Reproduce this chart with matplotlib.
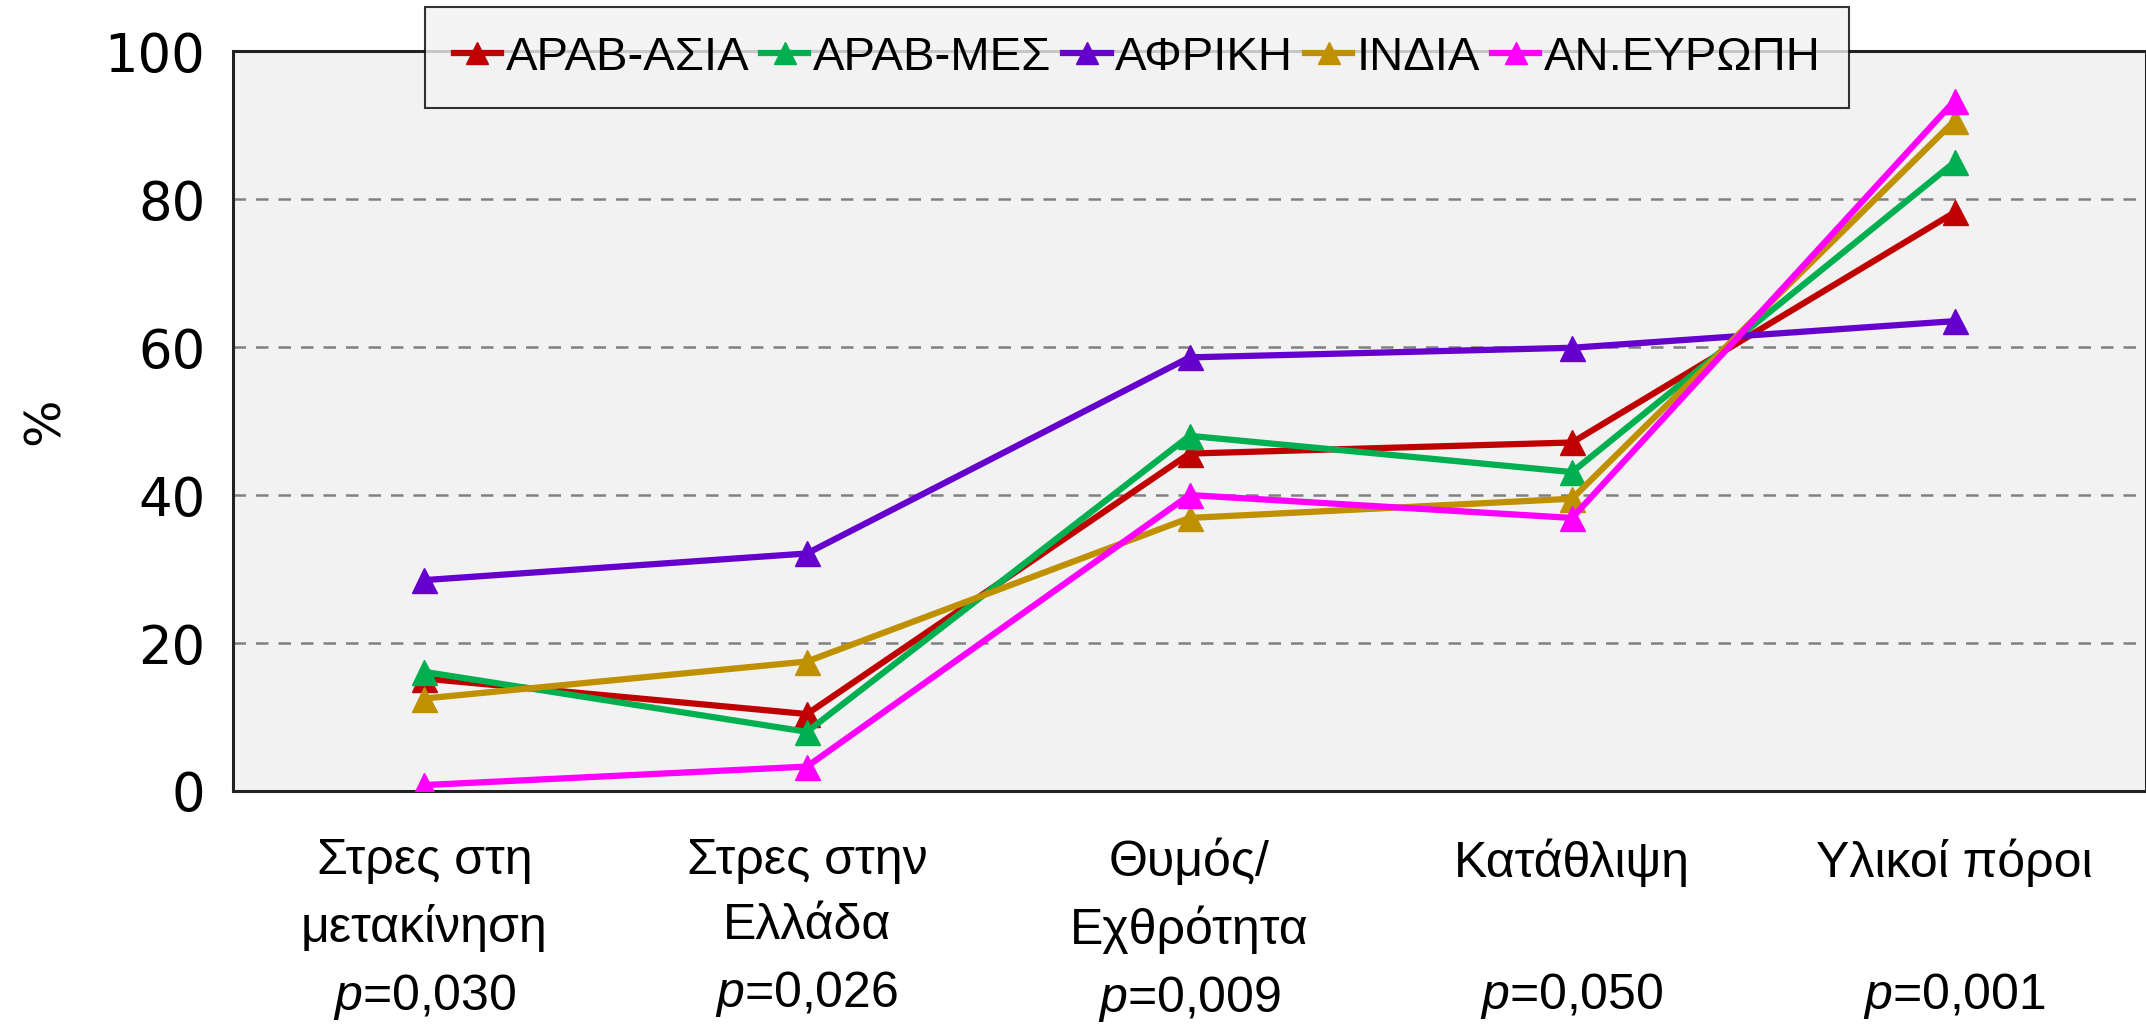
import matplotlib
matplotlib.use("Agg")
import matplotlib.pyplot as plt
import numpy as np

plt.rcParams['font.family'] = ['Liberation Sans', 'DejaVu Sans']
plt.rcParams['mathtext.fontset'] = 'custom'
plt.rcParams['mathtext.it'] = 'Liberation Sans:italic'
plt.rcParams['mathtext.rm'] = 'Liberation Sans'

# κατηγορίες και p-τιμές
categories = ['Στρες στη\nμετακίνηση', 'Στρες στην\nΕλλάδα', 'Θυμός/\nΕχθρότητα',
              'Κατάθλιψη\n', 'Υλικοί πόροι\n']
p_values = ['0,030', '0,026', '0,009', '0,050', '0,001']

# σειρές (%)
arab_asia = [15.2, 10.4, 45.6, 47.1, 78.2]
arab_mes = [16.1, 8.0, 48.0, 43.1, 85.0]
afriki = [28.5, 32.1, 58.6, 59.9, 63.5]
india = [12.5, 17.5, 36.9, 39.5, 90.6]
an_evropi = [0.8, 3.3, 40.0, 36.9, 93.3]

series_names = ['ΑΡΑΒ-ΑΣΙΑ', 'ΑΡΑΒ-ΜΕΣ', 'ΑΦΡΙΚΗ', 'ΙΝΔΙΑ', 'ΑΝ.ΕΥΡΩΠΗ']
colors = ['#C00000', '#00B050', '#6600CC', '#BF9000', '#FF00FF']
series = [arab_asia, arab_mes, afriki, india, an_evropi]

fig = plt.figure(figsize=(21.46, 10.27), dpi=100)
ax = fig.add_axes([0.1086, 0.2298, 0.8914, 0.7205])
ax.set_facecolor('#F2F2F2')

x = np.arange(len(categories))
for name, vals, c in zip(series_names, series, colors):
    ax.plot(x, vals, color=c, lw=4.5, marker='^', ms=18, label=name, zorder=3)

ax.set_xlim(-0.5, 4.5)
ax.set_ylim(0, 100)
ax.set_yticks([0, 20, 40, 60, 80, 100])
ax.yaxis.grid(True, linestyle=(0, (5, 4)), color='#808080', lw=1.8)
ax.set_axisbelow(True)

labels = [c + '\n$p$=' + p for c, p in zip(categories, p_values)]
ax.set_xticks(x)
ax.set_xticklabels(labels, fontsize=36, linespacing=1.52)
ax.tick_params(axis='x', length=0, pad=34)
ax.tick_params(axis='y', length=0, pad=20)
for t in ax.get_yticklabels():
    t.set_family('DejaVu Sans')
    t.set_fontsize(38)

ax.set_ylabel('%', fontsize=36, family='DejaVu Sans', labelpad=26)

for s in ax.spines.values():
    s.set_linewidth(2.2)
    s.set_color('#222222')

leg = fig.legend(loc='center', bbox_to_anchor=(0.53, 0.944), ncol=5, fontsize=34,
                 handlelength=1.0, handletextpad=0.1, columnspacing=0.25,
                 frameon=True, fancybox=False, borderpad=0.6, markerscale=0.9)
leg.get_frame().set_edgecolor('black')
leg.get_frame().set_facecolor('#F2F2F2')
leg.get_frame().set_linewidth(1.5)

fig.savefig('out.png', dpi=100)
